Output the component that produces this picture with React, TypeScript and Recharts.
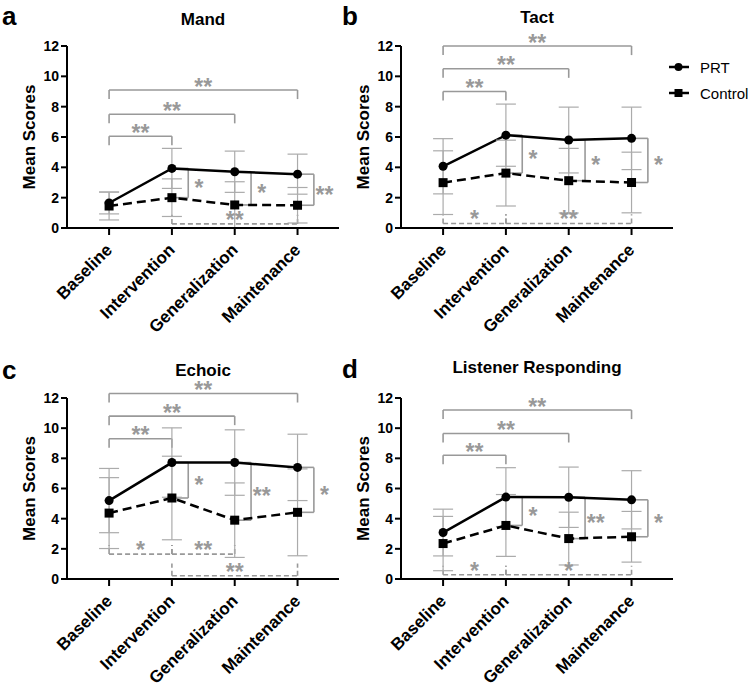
import React from 'react';
import { LineChart, Line, XAxis, YAxis, ErrorBar, ReferenceLine, ReferenceDot, Legend } from 'recharts';

const categories = ['Baseline', 'Intervention', 'Generalization', 'Maintenance'];
const yTicks = [0, 2, 4, 6, 8, 10, 12];
const xTicks = [0, 1, 2, 3];

// Mand
const mandPRT = [1.65, 3.93, 3.71, 3.55];
const mandPRTSD = [0.72, 1.32, 1.36, 1.32];
const mandCtl = [1.45, 2.0, 1.52, 1.5];
const mandCtlSD = [0.92, 1.24, 1.53, 1.17];
// Tact
const tactPRT = [4.07, 6.12, 5.8, 5.91];
const tactPRTSD = [1.82, 2.05, 2.17, 2.06];
const tactCtl = [2.99, 3.62, 3.12, 3.0];
const tactCtlSD = [2.1, 2.17, 2.13, 2.0];
// Echoic
const echoicPRT = [5.2, 7.72, 7.72, 7.4];
const echoicPRTSD = [2.13, 2.3, 2.17, 2.2];
const echoicCtl = [4.37, 5.37, 3.9, 4.42];
const echoicCtlSD = [2.35, 2.77, 2.47, 2.88];
// Listener Responding
const listenerPRT = [3.08, 5.43, 5.42, 5.25];
const listenerPRTSD = [1.55, 1.95, 2.0, 1.93];
const listenerCtl = [2.35, 3.55, 2.68, 2.8];
const listenerCtlSD = [1.8, 2.05, 1.75, 1.68];

// significance: PRT within-group comparisons vs baseline (levels)
const mandTopLevels = [6.05, 7.5, 9.1];
const tactTopLevels = [9.0, 10.5, 12.0];
const echoicTopLevels = [9.3, 10.8, 12.3];
const listenerTopLevels = [8.2, 9.65, 11.2];
const topLabels = ['**', '**', '**'];

// between-group labels at Intervention, Generalization, Maintenance
const mandBetween = ['*', '*', '**'];
const tactBetween = ['*', '*', '*'];
const echoicBetween = ['*', '**', '*'];
const listenerBetween = ['*', '**', '*'];

// control within-group comparisons: [from, to, level, label]
const mandBottom: [number, number, number, string][] = [[1, 3, 0.27, '**']];
const tactBottom: [number, number, number, string][] = [[0, 1, 0.3, '*'], [1, 3, 0.3, '**']];
const echoicBottom: [number, number, number, string][] = [[0, 1, 1.65, '*'], [1, 2, 1.65, '**'], [1, 3, 0.22, '**']];
const listenerBottom: [number, number, number, string][] = [[0, 1, 0.28, '*'], [1, 3, 0.28, '*']];

const GRAY = '#999999';
const ERR = '#ababab';
const FONT = '"Liberation Sans", Arial, sans-serif';

function buildData(prt: number[], prtSD: number[], ctl: number[], ctlSD: number[]) {
  return categories.map((c, i) => ({ idx: i, name: c, prt: prt[i], prtSD: prtSD[i], ctl: ctl[i], ctlSD: ctlSD[i] }));
}

const XTick = (props: any) => {
  const { x, y, payload } = props;
  return (
    <g transform={`translate(${x},${y})`}>
      <text transform="translate(4,14) rotate(-45)" textAnchor="end" fontSize={17} fontWeight="bold" fill="#000" fontFamily={FONT}>
        {categories[payload.value]}
      </text>
    </g>
  );
};

const SquareDot = (props: any) => {
  const { cx, cy, index } = props;
  if (cx == null || cy == null) return <g key={'s' + index} />;
  return <rect key={'s' + index} x={cx - 4.5} y={cy - 4.5} width={9} height={9} fill="#000" />;
};

const CircleDot = (props: any) => {
  const { cx, cy, index } = props;
  if (cx == null || cy == null) return <g key={'c' + index} />;
  return <circle key={'c' + index} cx={cx} cy={cy} r={4.5} fill="#000" />;
};

const LegendContent = () => (
  <div style={{ fontFamily: FONT, fontSize: 15, color: '#000' }}>
    {[{ name: 'PRT', sq: false }, { name: 'Control', sq: true }].map((it) => (
      <div key={it.name} style={{ display: 'flex', alignItems: 'center', height: 26 }}>
        <svg width={24} height={12} style={{ marginRight: 8 }}>
          <line x1={1} y1={6} x2={21} y2={6} stroke="#000" strokeWidth={2.5} />
          {it.sq ? <rect x={6.5} y={2} width={8} height={8} fill="#000" /> : <circle cx={10.5} cy={6} r={4} fill="#000" />}
        </svg>
        <span>{it.name}</span>
      </div>
    ))}
  </div>
);

function starLabel(key: string, x: number, y: number, text: string) {
  return (
    <ReferenceDot
      key={key}
      x={x}
      y={y}
      r={0}
      fill="none"
      stroke="none"
      ifOverflow="visible"
      label={{ value: text, position: 'center', fill: GRAY, fontSize: 23, fontWeight: 'bold', fontFamily: FONT }}
    />
  );
}

function seg(key: string, x1: number, y1: number, x2: number, y2: number, dashed = false) {
  return (
    <ReferenceLine
      key={key}
      segment={[{ x: x1, y: y1 }, { x: x2, y: y2 }]}
      stroke={GRAY}
      strokeWidth={1.6}
      strokeDasharray={dashed ? '5 3' : undefined}
      ifOverflow="visible"
    />
  );
}

type PanelProps = {
  left: number; top: number; width: number; height: number;
  marginTop: number; marginRight: number; marginBottom: number;
  title: string; letter: string;
  prt: number[]; prtSD: number[]; ctl: number[]; ctlSD: number[];
  topLevels: number[]; between: string[]; bottom: [number, number, number, string][];
  legend?: boolean;
};

const STAR_SHIFT = 0.32;

function Panel(p: PanelProps) {
  const data = buildData(p.prt, p.prtSD, p.ctl, p.ctlSD);
  const refs: React.ReactNode[] = [];
  // top brackets
  p.topLevels.forEach((lv, k) => {
    const to = k + 1;
    refs.push(seg(`t${k}h`, 0, lv, to, lv));
    refs.push(seg(`t${k}a`, 0, lv, 0, lv - 0.6));
    refs.push(seg(`t${k}b`, to, lv, to, lv - 0.6));
    refs.push(starLabel(`t${k}s`, to / 2, lv + 0.55 - STAR_SHIFT, topLabels[k]));
  });
  // between-group brackets
  p.between.forEach((lab, k) => {
    const i = k + 1;
    const hi = p.prt[i];
    const lo = p.ctl[i];
    refs.push(seg(`b${k}1`, i + 0.04, hi, i + 0.26, hi));
    refs.push(seg(`b${k}2`, i + 0.26, hi, i + 0.26, lo));
    refs.push(seg(`b${k}3`, i + 0.04, lo, i + 0.26, lo));
    refs.push(starLabel(`b${k}s`, i + 0.43, (hi + lo) / 2 - STAR_SHIFT, lab));
  });
  // control within-group dashed brackets
  p.bottom.forEach(([a, b, lv, lab], k) => {
    const up = lv < 0.5 && a === 1 && p.bottom.length === 3 ? 0.8 : 0.6;
    refs.push(seg(`d${k}h`, a, lv, b, lv, true));
    refs.push(seg(`d${k}a`, a, lv, a, lv + up, true));
    refs.push(seg(`d${k}b`, b, lv, b, lv + up, true));
    refs.push(starLabel(`d${k}s`, (a + b) / 2, lv + 0.6 - STAR_SHIFT, lab));
  });

  return (
    <div style={{ position: 'absolute', left: p.left, top: p.top, width: p.width, height: p.height }}>
      <LineChart
        width={p.width}
        height={p.height}
        data={data}
        margin={{ top: p.marginTop, right: p.marginRight, bottom: p.marginBottom, left: 27 }}
      >
        <XAxis
          dataKey="idx"
          type="number"
          domain={[-0.67, 3.66]}
          ticks={xTicks}
          allowDataOverflow
          height={90}
          tick={<XTick />}
          axisLine={{ stroke: '#000', strokeWidth: 2 }}
          tickLine={{ stroke: '#000', strokeWidth: 2 }}
          tickSize={7}
          interval={0}
        />
        <YAxis
          type="number"
          domain={[0, 12]}
          ticks={yTicks}
          allowDataOverflow
          width={40}
          axisLine={{ stroke: '#000', strokeWidth: 2 }}
          tickLine={{ stroke: '#000', strokeWidth: 2 }}
          tickSize={6}
          tick={{ fill: '#000', fontSize: 14, fontWeight: 'bold', fontFamily: FONT }}
          label={{
            content: (lp: any) => {
              const vb = lp.viewBox || { x: 27, y: p.marginTop, width: 40, height: 0 };
              const cx = vb.x + vb.width - 38;
              const cy = vb.y + vb.height / 2;
              return (
                <text x={cx} y={cy} transform={`rotate(-90, ${cx}, ${cy})`} textAnchor="middle" dominantBaseline="central" fontSize={17} fontWeight="bold" fill="#000" fontFamily={FONT}>
                  Mean Scores
                </text>
              );
            },
          }}
        />
        {refs}
        <Line dataKey="prt" stroke="#000" strokeWidth={2.5} dot={CircleDot} isAnimationActive={false} type="linear">
          <ErrorBar dataKey="prtSD" direction="y" width={10} stroke={ERR} strokeWidth={1.2} />
        </Line>
        <Line dataKey="ctl" stroke="#000" strokeWidth={2.5} strokeDasharray="9 5" dot={SquareDot} isAnimationActive={false} type="linear">
          <ErrorBar dataKey="ctlSD" direction="y" width={10} stroke={ERR} strokeWidth={1.2} />
        </Line>
        {p.legend ? (
          <Legend
            layout="horizontal"
            verticalAlign="middle"
            align="center"
            content={<LegendContent />}
            wrapperStyle={{ left: 334, top: 54, width: 90, height: 60 }}
          />
        ) : null}
      </LineChart>
    </div>
  );
}

const letterStyle: React.CSSProperties = { position: 'absolute', fontSize: 26, fontWeight: 'bold', lineHeight: '26px' };
const titleStyle: React.CSSProperties = { position: 'absolute', width: 272, textAlign: 'center', fontSize: 17, fontWeight: 'bold' };

export default function App() {
  return (
    <div style={{ position: 'absolute', left: 0, top: 0, width: 749, height: 688, background: '#fff', fontFamily: FONT, overflow: 'hidden' }}>
      <div style={{ ...letterStyle, left: 2, top: 3 }}>a</div>
      <div style={{ ...letterStyle, left: 342, top: 3 }}>b</div>
      <div style={{ ...letterStyle, left: 2, top: 357 }}>c</div>
      <div style={{ ...letterStyle, left: 342, top: 356 }}>d</div>
      <div style={{ ...titleStyle, left: 67, top: 10 }}>Mand</div>
      <div style={{ ...titleStyle, left: 401, top: 8 }}>Tact</div>
      <div style={{ ...titleStyle, left: 67, top: 361 }}>Echoic</div>
      <div style={{ ...titleStyle, left: 401, top: 358 }}>Listener Responding</div>

      <Panel left={0} top={0} width={375} height={340} marginTop={46} marginRight={36} marginBottom={22}
        title="Mand" letter="a" prt={mandPRT} prtSD={mandPRTSD} ctl={mandCtl} ctlSD={mandCtlSD}
        topLevels={mandTopLevels} between={mandBetween} bottom={mandBottom} />
      <Panel left={334} top={0} width={415} height={340} marginTop={46} marginRight={76} marginBottom={22}
        title="Tact" letter="b" prt={tactPRT} prtSD={tactPRTSD} ctl={tactCtl} ctlSD={tactCtlSD}
        topLevels={tactTopLevels} between={tactBetween} bottom={tactBottom} legend />
      <Panel left={0} top={340} width={375} height={348} marginTop={58} marginRight={36} marginBottom={19}
        title="Echoic" letter="c" prt={echoicPRT} prtSD={echoicPRTSD} ctl={echoicCtl} ctlSD={echoicCtlSD}
        topLevels={echoicTopLevels} between={echoicBetween} bottom={echoicBottom} />
      <Panel left={334} top={340} width={415} height={348} marginTop={58} marginRight={76} marginBottom={19}
        title="Listener Responding" letter="d" prt={listenerPRT} prtSD={listenerPRTSD} ctl={listenerCtl} ctlSD={listenerCtlSD}
        topLevels={listenerTopLevels} between={listenerBetween} bottom={listenerBottom} />
    </div>
  );
}
